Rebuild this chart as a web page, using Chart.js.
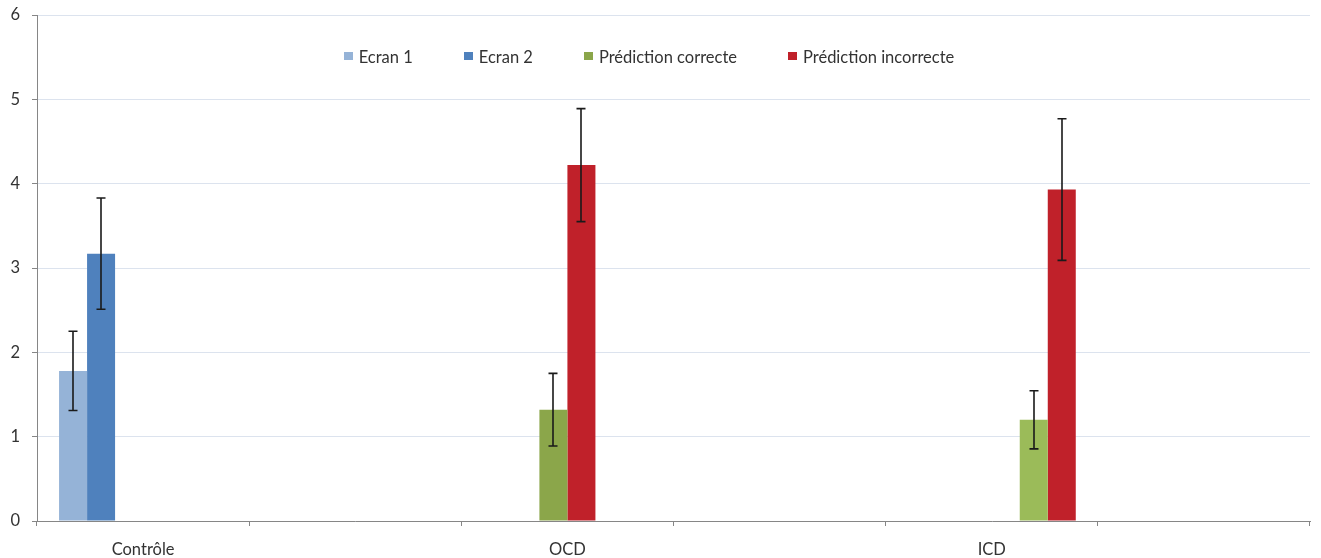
<!DOCTYPE html>
<html><head><meta charset="utf-8">
<script src="https://cdn.jsdelivr.net/npm/chart.js@4"></script>
<style>html,body{margin:0;padding:0;background:#fff;overflow:hidden}#wrap{width:1321px;height:558px;position:relative}</style>
</head><body><div id="wrap"><canvas id="c"></canvas></div>
<script>
// ---- data ----
const categories = ['Contrôle', '', 'OCD', '', 'ICD', ''];
const seriesLabels = ['Ecran 1', 'Ecran 2', 'Prédiction correcte', 'Prédiction incorrecte', 'Prédiction correcte', 'Prédiction incorrecte'];
const seriesCategory = [0, 0, 2, 2, 4, 4];
const meanValues = [1.78, 3.17, 1.32, 4.22, 1.20, 3.93];
const errorValues = [0.47, 0.66, 0.43, 0.67, 0.345, 0.84];
const seriesColors = ['#95B3D7', '#4F81BD', '#8BA64A', '#C0212A', '#9BBB59', '#C0212A'];
const legendIndexes = [0, 1, 2, 3];
const yTicks = [0, 1, 2, 3, 4, 5, 6];

const FONT = 'Lato, "Liberation Sans", sans-serif';
const FSIZE = 16.5;
const TEXT = '#333333';

const datasets = meanValues.map((v, i) => ({
  label: seriesLabels[i],
  data: categories.map((_, c) => c === seriesCategory[i] ? v : null),
  backgroundColor: seriesColors[i],
  borderWidth: 0,
  categoryPercentage: 0.792,
  barPercentage: 1.0
}));

const errorBarPlugin = {
  id: 'errorBars',
  afterDatasetsDraw(chart) {
    const ctx = chart.ctx, ys = chart.scales.y;
    ctx.save();
    ctx.strokeStyle = '#1a1a1a';
    ctx.lineWidth = 1.6;
    meanValues.forEach((v, i) => {
      const bar = chart.getDatasetMeta(i).data[seriesCategory[i]];
      if (!bar) return;
      const x = Math.round(bar.x);
      const yTop = ys.getPixelForValue(v + errorValues[i]);
      const yBot = ys.getPixelForValue(v - errorValues[i]);
      ctx.beginPath();
      ctx.moveTo(x, yTop); ctx.lineTo(x, yBot);
      ctx.moveTo(x - 4.5, yTop); ctx.lineTo(x + 4.5, yTop);
      ctx.moveTo(x - 4.5, yBot); ctx.lineTo(x + 4.5, yBot);
      ctx.stroke();
    });
    ctx.restore();
  }
};

const legendPlugin = {
  id: 'innerLegend',
  afterDraw(chart) {
    const ctx = chart.ctx;
    ctx.save();
    ctx.font = FSIZE + 'px ' + FONT;
    ctx.textBaseline = 'middle';
    const box = 9, gap = 6, spacing = 51;
    const widths = legendIndexes.map(i => box + gap + ctx.measureText(seriesLabels[i]).width);
    const total = widths.reduce((a, b) => a + b, 0) + spacing * (widths.length - 1);
    let x = 649 - total / 2;
    const cy = 57.5;
    legendIndexes.forEach((i, k) => {
      ctx.fillStyle = seriesColors[i];
      ctx.fillRect(Math.round(x), 52, box, 8);
      ctx.fillStyle = TEXT;
      ctx.fillText(seriesLabels[i], x + box + gap, cy);
      x += widths[k] + spacing;
    });
    ctx.restore();
  }
};

new Chart(document.getElementById('c'), {
  type: 'bar',
  data: { labels: categories, datasets },
  plugins: [errorBarPlugin, legendPlugin],
  options: {
    responsive: true,
    maintainAspectRatio: false,
    animation: false,
    layout: { padding: { top: 15, right: 11, left: 0, bottom: 0 } },
    plugins: { legend: { display: false }, tooltip: { enabled: false }, title: { display: false } },
    scales: {
      x: {
        afterFit(s) { s.height = 37; s.paddingLeft = 0; s.paddingRight = 0; },
        grid: { display: true, drawOnChartArea: false, drawTicks: true, tickLength: 5, tickColor: '#868686', offset: true },
        border: { display: true, color: '#868686', width: 1 },
        ticks: { color: TEXT, font: { family: FONT, size: FSIZE }, padding: 14, maxRotation: 0, autoSkip: false }
      },
      y: {
        min: 0, max: 6,
        afterFit(s) { s.width = 37; s.paddingTop = 0; s.paddingBottom = 0; },
        afterBuildTicks(s) { s.ticks = yTicks.map(v => ({ value: v })); },
        grid: { color: '#DCE3EE', lineWidth: 1, drawTicks: true, tickLength: 5, tickColor: '#868686' },
        border: { display: true, color: '#868686', width: 1 },
        ticks: { color: TEXT, font: { family: FONT, size: FSIZE }, padding: 12, stepSize: 1 }
      }
    }
  }
});
</script></body></html>
